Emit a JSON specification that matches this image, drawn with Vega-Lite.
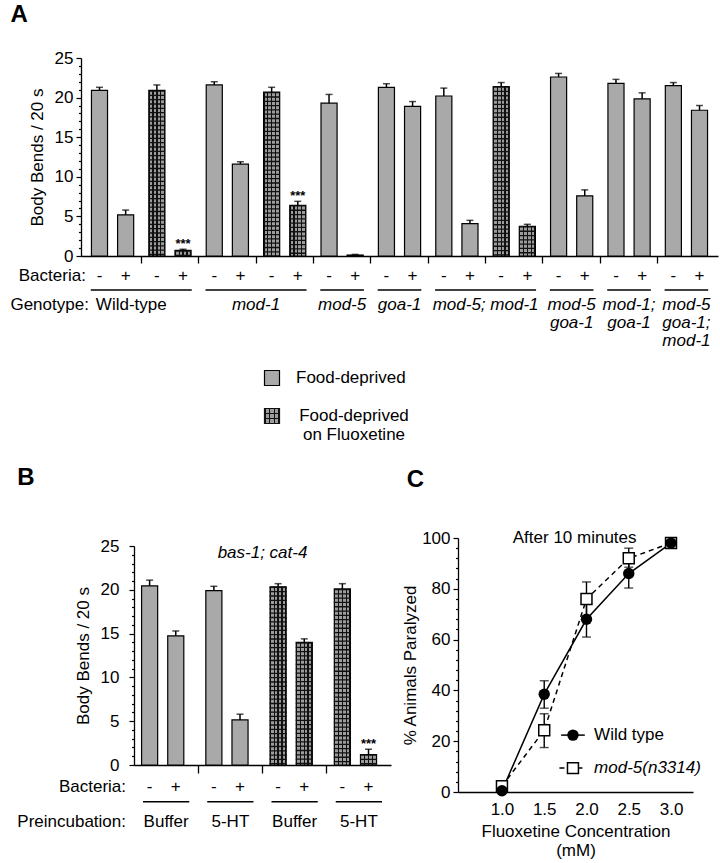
{
  "$schema": "https://vega.github.io/schema/vega-lite/v6.json",
  "background": "white",
  "padding": {"left": 10, "top": 3, "right": 5, "bottom": 5},
  "config": {
    "font": "Liberation Sans",
    "view": {"stroke": null},
    "axis": {"labelFont": "Liberation Sans", "titleFont": "Liberation Sans", "labelFontSize": 17, "titleFontSize": 17, "titleFontWeight": "normal", "labelColor": "#000", "titleColor": "#000", "domainColor": "#000", "tickColor": "#000", "domainWidth": 1.3, "tickWidth": 1.2, "grid": false},
    "title": {"font": "Liberation Sans", "fontSize": 24, "fontWeight": "bold", "anchor": "start", "frame": "bounds", "color": "#000"},
    "text": {"font": "Liberation Sans", "fontSize": 17, "color": "#000"}
  },
  "datasets": {
    "barsA": [
      {"pair": "Wild-type FD", "genotype": "Wild-type", "treatment": "FD", "bacteria": "-", "mean": 20.9, "upper": 21.3, "stars": false},
      {"pair": "Wild-type FD", "genotype": "Wild-type", "treatment": "FD", "bacteria": "+", "mean": 5.2, "upper": 5.8, "stars": false},
      {"pair": "Wild-type FL", "genotype": "Wild-type", "treatment": "FL", "bacteria": "-", "mean": 20.9, "upper": 21.6, "stars": false},
      {"pair": "Wild-type FL", "genotype": "Wild-type", "treatment": "FL", "bacteria": "+", "mean": 0.7, "upper": 0.85, "stars": true},
      {"pair": "mod-1 FD", "genotype": "mod-1", "treatment": "FD", "bacteria": "-", "mean": 21.6, "upper": 22.0, "stars": false},
      {"pair": "mod-1 FD", "genotype": "mod-1", "treatment": "FD", "bacteria": "+", "mean": 11.6, "upper": 11.9, "stars": false},
      {"pair": "mod-1 FL", "genotype": "mod-1", "treatment": "FL", "bacteria": "-", "mean": 20.7, "upper": 21.3, "stars": false},
      {"pair": "mod-1 FL", "genotype": "mod-1", "treatment": "FL", "bacteria": "+", "mean": 6.4, "upper": 6.9, "stars": true},
      {"pair": "mod-5 FD", "genotype": "mod-5", "treatment": "FD", "bacteria": "-", "mean": 19.3, "upper": 20.4, "stars": false},
      {"pair": "mod-5 FD", "genotype": "mod-5", "treatment": "FD", "bacteria": "+", "mean": 0.12, "upper": 0.2, "stars": false},
      {"pair": "goa-1 FD", "genotype": "goa-1", "treatment": "FD", "bacteria": "-", "mean": 21.3, "upper": 21.75, "stars": false},
      {"pair": "goa-1 FD", "genotype": "goa-1", "treatment": "FD", "bacteria": "+", "mean": 18.9, "upper": 19.5, "stars": false},
      {"pair": "mod-5; mod-1 FD", "genotype": "mod-5; mod-1", "treatment": "FD", "bacteria": "-", "mean": 20.2, "upper": 21.2, "stars": false},
      {"pair": "mod-5; mod-1 FD", "genotype": "mod-5; mod-1", "treatment": "FD", "bacteria": "+", "mean": 4.1, "upper": 4.5, "stars": false},
      {"pair": "mod-5; mod-1 FL", "genotype": "mod-5; mod-1", "treatment": "FL", "bacteria": "-", "mean": 21.4, "upper": 21.9, "stars": false},
      {"pair": "mod-5; mod-1 FL", "genotype": "mod-5; mod-1", "treatment": "FL", "bacteria": "+", "mean": 3.75, "upper": 4.0, "stars": false},
      {"pair": "mod-5 goa-1 FD", "genotype": "mod-5 goa-1", "treatment": "FD", "bacteria": "-", "mean": 22.6, "upper": 23.05, "stars": false},
      {"pair": "mod-5 goa-1 FD", "genotype": "mod-5 goa-1", "treatment": "FD", "bacteria": "+", "mean": 7.6, "upper": 8.35, "stars": false},
      {"pair": "mod-1; goa-1 FD", "genotype": "mod-1; goa-1", "treatment": "FD", "bacteria": "-", "mean": 21.8, "upper": 22.3, "stars": false},
      {"pair": "mod-1; goa-1 FD", "genotype": "mod-1; goa-1", "treatment": "FD", "bacteria": "+", "mean": 19.85, "upper": 20.6, "stars": false},
      {"pair": "mod-5 goa-1; mod-1 FD", "genotype": "mod-5 goa-1; mod-1", "treatment": "FD", "bacteria": "-", "mean": 21.5, "upper": 21.9, "stars": false},
      {"pair": "mod-5 goa-1; mod-1 FD", "genotype": "mod-5 goa-1; mod-1", "treatment": "FD", "bacteria": "+", "mean": 18.4, "upper": 19.0, "stars": false}
    ],
    "groupsA": [
      {"label": "Wild-type", "first": "Wild-type FD", "last": "Wild-type FL"},
      {"label": "mod-1", "first": "mod-1 FD", "last": "mod-1 FL"},
      {"label": "mod-5", "first": "mod-5 FD", "last": "mod-5 FD"},
      {"label": "goa-1", "first": "goa-1 FD", "last": "goa-1 FD"},
      {"label": "mod-5; mod-1", "first": "mod-5; mod-1 FD", "last": "mod-5; mod-1 FL"},
      {"label": "mod-5\ngoa-1", "first": "mod-5 goa-1 FD", "last": "mod-5 goa-1 FD"},
      {"label": "mod-1;\ngoa-1", "first": "mod-1; goa-1 FD", "last": "mod-1; goa-1 FD"},
      {"label": "mod-5\ngoa-1;\nmod-1", "first": "mod-5 goa-1; mod-1 FD", "last": "mod-5 goa-1; mod-1 FD"}
    ],
    "barsB": [
      {"pair": "Buffer FD", "preinc": "Buffer", "treatment": "FD", "bacteria": "-", "mean": 20.45, "upper": 21.1, "stars": false},
      {"pair": "Buffer FD", "preinc": "Buffer", "treatment": "FD", "bacteria": "+", "mean": 14.75, "upper": 15.3, "stars": false},
      {"pair": "5-HT FD", "preinc": "5-HT", "treatment": "FD", "bacteria": "-", "mean": 19.9, "upper": 20.4, "stars": false},
      {"pair": "5-HT FD", "preinc": "5-HT", "treatment": "FD", "bacteria": "+", "mean": 5.15, "upper": 5.8, "stars": false},
      {"pair": "Buffer FL", "preinc": "Buffer", "treatment": "FL", "bacteria": "-", "mean": 20.35, "upper": 20.7, "stars": false},
      {"pair": "Buffer FL", "preinc": "Buffer", "treatment": "FL", "bacteria": "+", "mean": 14.0, "upper": 14.4, "stars": false},
      {"pair": "5-HT FL", "preinc": "5-HT", "treatment": "FL", "bacteria": "-", "mean": 20.1, "upper": 20.7, "stars": false},
      {"pair": "5-HT FL", "preinc": "5-HT", "treatment": "FL", "bacteria": "+", "mean": 1.2, "upper": 1.8, "stars": true}
    ],
    "groupsB": [
      {"label": "Buffer", "pair": "Buffer FD"},
      {"label": "5-HT", "pair": "5-HT FD"},
      {"label": "Buffer", "pair": "Buffer FL"},
      {"label": "5-HT", "pair": "5-HT FL"}
    ],
    "curveC": [
      {"series": "Wild type", "conc": 1.0, "mean": 0.5, "lower": null, "upper": null},
      {"series": "Wild type", "conc": 1.5, "mean": 38.5, "lower": 33.0, "upper": 43.8},
      {"series": "Wild type", "conc": 2.0, "mean": 68.0, "lower": 61.0, "upper": 77.0},
      {"series": "Wild type", "conc": 2.5, "mean": 86.0, "lower": 80.3, "upper": 92.5},
      {"series": "Wild type", "conc": 3.0, "mean": 98.0, "lower": null, "upper": null},
      {"series": "mod-5(n3314)", "conc": 1.0, "mean": 2.3, "lower": null, "upper": null},
      {"series": "mod-5(n3314)", "conc": 1.5, "mean": 24.3, "lower": 17.5, "upper": 30.8},
      {"series": "mod-5(n3314)", "conc": 2.0, "mean": 76.0, "lower": 69.0, "upper": 82.7},
      {"series": "mod-5(n3314)", "conc": 2.5, "mean": 92.0, "lower": 88.5, "upper": 96.0},
      {"series": "mod-5(n3314)", "conc": 3.0, "mean": 98.0, "lower": null, "upper": null}
    ]
  },
  "bounds": "flush",
  "spacing": 103,
  "vconcat": [
    {
      "title": {"text": "A", "offset": 22},
      "width": 637,
      "height": 198,
      "data": {"name": "barsA"},
      "resolve": {"axis": {"y": "independent"}},
      "layer": [
        {
          "transform": [{"filter": "datum.treatment === 'FD'"}],
          "mark": {"type": "bar", "fill": "#a9a9a9", "stroke": "#000", "strokeWidth": 1.2},
          "encoding": {
            "x": {"field": "pair", "type": "nominal",
              "scale": {"domain": ["Wild-type FD", "Wild-type FL", "mod-1 FD", "mod-1 FL", "mod-5 FD", "goa-1 FD", "mod-5; mod-1 FD", "mod-5; mod-1 FL", "mod-5 goa-1 FD", "mod-1; goa-1 FD", "mod-5 goa-1; mod-1 FD"], "paddingInner": 0, "paddingOuter": 0.05},
              "axis": {"title": null, "labels": false, "tickSize": 7, "tickWidth": 1.3, "bandPosition": 0, "values": ["Wild-type FL", "mod-1 FD", "mod-1 FL", "mod-5 FD", "goa-1 FD", "mod-5; mod-1 FD", "mod-5; mod-1 FL", "mod-5 goa-1 FD", "mod-1; goa-1 FD", "mod-5 goa-1; mod-1 FD"]}},
            "xOffset": {"field": "bacteria", "type": "nominal", "scale": {"domain": ["-", "+"], "paddingInner": 0.385, "paddingOuter": 0.29}},
            "y": {"field": "mean", "type": "quantitative", "scale": {"domain": [0, 25], "nice": false},
              "axis": {"orient": "left", "title": "Body Bends / 20 s", "values": [0, 5, 10, 15, 20, 25], "tickSize": 5, "labelPadding": 3, "titlePadding": 8}}
          }
        },
        {
          "transform": [{"filter": "datum.treatment === 'FL'"}],
          "mark": {"type": "bar", "stroke": "#000", "strokeWidth": 1.2,
            "fill": {"gradient": "linear", "x1": 0, "y1": 0, "x2": 1, "y2": 0, "stops": [
              {"offset": 0, "color": "#111"}, {"offset": 0.06, "color": "#111"}, {"offset": 0.06, "color": "#9c9c9c"}, {"offset": 0.22, "color": "#9c9c9c"},
              {"offset": 0.22, "color": "#111"}, {"offset": 0.3, "color": "#111"}, {"offset": 0.3, "color": "#9c9c9c"}, {"offset": 0.46, "color": "#9c9c9c"},
              {"offset": 0.46, "color": "#111"}, {"offset": 0.54, "color": "#111"}, {"offset": 0.54, "color": "#9c9c9c"}, {"offset": 0.7, "color": "#9c9c9c"},
              {"offset": 0.7, "color": "#111"}, {"offset": 0.78, "color": "#111"}, {"offset": 0.78, "color": "#9c9c9c"}, {"offset": 0.94, "color": "#9c9c9c"},
              {"offset": 0.94, "color": "#111"}, {"offset": 1, "color": "#111"}]}},
          "encoding": {
            "x": {"field": "pair", "type": "nominal"},
            "xOffset": {"field": "bacteria", "type": "nominal"},
            "y": {"field": "mean", "type": "quantitative", "axis": null}
          }
        },
        {
          "transform": [{"filter": "datum.treatment === 'FL'"}],
          "mark": {"type": "rule", "stroke": "#111", "strokeWidth": 16, "strokeDash": [1.3, 3.0], "strokeCap": "butt"},
          "encoding": {
            "x": {"field": "pair", "type": "nominal"},
            "xOffset": {"field": "bacteria", "type": "nominal"},
            "y": {"field": "mean", "type": "quantitative", "axis": null},
            "y2": {"datum": 0}
          }
        },
        {
          "mark": {"type": "rule", "stroke": "#000", "strokeWidth": 1.5},
          "encoding": {
            "x": {"field": "pair", "type": "nominal"},
            "xOffset": {"field": "bacteria", "type": "nominal"},
            "y": {"field": "mean", "type": "quantitative",
              "axis": {"orient": "left", "title": null, "labels": false, "domain": false, "tickSize": 2.5, "values": [1,2,3,4,6,7,8,9,11,12,13,14,16,17,18,19,21,22,23,24]}},
            "y2": {"field": "upper"}
          }
        },
        {
          "mark": {"type": "tick", "orient": "horizontal", "color": "#000", "size": 7, "thickness": 1.5},
          "encoding": {
            "x": {"field": "pair", "type": "nominal"},
            "xOffset": {"field": "bacteria", "type": "nominal"},
            "y": {"field": "upper", "type": "quantitative", "axis": null}
          }
        },
        {
          "transform": [{"filter": "datum.stars"}],
          "mark": {"type": "text", "text": "***", "fontSize": 13, "fontWeight": "bold", "baseline": "bottom", "dy": 2},
          "encoding": {
            "x": {"field": "pair", "type": "nominal"},
            "xOffset": {"field": "bacteria", "type": "nominal"},
            "y": {"field": "upper", "type": "quantitative", "axis": null}
          }
        },
        {
          "mark": {"type": "text", "baseline": "middle", "align": "center"},
          "encoding": {
            "x": {"field": "pair", "type": "nominal"},
            "xOffset": {"field": "bacteria", "type": "nominal"},
            "y": {"datum": -2.5, "type": "quantitative", "axis": null},
            "text": {"field": "bacteria"}
          }
        },
        {
          "data": {"name": "groupsA"},
          "mark": {"type": "rule", "stroke": "#000", "strokeWidth": 1.6},
          "encoding": {
            "x": {"field": "first", "type": "nominal", "bandPosition": 0.12},
            "x2": {"field": "last", "bandPosition": 0.88},
            "y": {"datum": -4.3, "type": "quantitative", "axis": null}
          }
        },
        {
          "data": {"name": "groupsA"},
          "transform": [{"filter": "datum.label === 'Wild-type'"}],
          "mark": {"type": "text", "baseline": "top", "align": "center", "dx": -10, "lineBreak": "\n", "lineHeight": 18},
          "encoding": {
            "x": {"field": "last", "type": "nominal", "bandPosition": 0},
            "y": {"datum": -5.2, "type": "quantitative", "axis": null},
            "text": {"field": "label"}
          }
        },
        {
          "data": {"name": "groupsA"},
          "transform": [{"filter": "datum.label !== 'Wild-type' && datum.first !== datum.last"}],
          "mark": {"type": "text", "baseline": "top", "align": "center", "fontStyle": "italic", "lineBreak": "\n", "lineHeight": 18},
          "encoding": {
            "x": {"field": "last", "type": "nominal", "bandPosition": 0},
            "y": {"datum": -5.2, "type": "quantitative", "axis": null},
            "text": {"field": "label"}
          }
        },
        {
          "data": {"name": "groupsA"},
          "transform": [{"filter": "datum.first === datum.last"}],
          "mark": {"type": "text", "baseline": "top", "align": "center", "fontStyle": "italic", "lineBreak": "\n", "lineHeight": 18},
          "encoding": {
            "x": {"field": "first", "type": "nominal", "bandPosition": 0.5},
            "y": {"datum": -5.2, "type": "quantitative", "axis": null},
            "text": {"field": "label"}
          }
        },
        {
          "data": {"values": [{"label": "Bacteria:", "pair": "Wild-type FD"}]},
          "mark": {"type": "text", "baseline": "middle", "align": "right", "dx": 2},
          "encoding": {
            "x": {"field": "pair", "type": "nominal", "bandPosition": 0},
            "y": {"datum": -2.5, "type": "quantitative", "axis": null},
            "text": {"field": "label"}
          }
        },
        {
          "data": {"values": [{"label": "Genotype:", "pair": "Wild-type FD"}]},
          "mark": {"type": "text", "baseline": "top", "align": "right", "dx": 5},
          "encoding": {
            "x": {"field": "pair", "type": "nominal", "bandPosition": 0},
            "y": {"datum": -5.2, "type": "quantitative", "axis": null},
            "text": {"field": "label"}
          }
        }
      ]
    },
    {
      "width": 382,
      "height": 76,
      "data": {"values": [{"item": "Food-deprived", "label": "Food-deprived"}, {"item": "Food-deprived on Fluoxetine", "label": "Food-deprived\non Fluoxetine"}]},
      "encoding": {
        "y": {"field": "item", "type": "nominal", "axis": null, "scale": {"domain": ["Food-deprived", "Food-deprived on Fluoxetine"]}}
      },
      "layer": [
        {
          "transform": [{"filter": "datum.item === 'Food-deprived'"}],
          "mark": {"type": "square", "size": 225, "filled": true, "fill": "#a9a9a9", "stroke": "#000", "strokeWidth": 1.2, "opacity": 1}
        },
        {
          "transform": [{"filter": "datum.item !== 'Food-deprived'"}],
          "mark": {"type": "square", "size": 225, "filled": true, "stroke": "#111", "strokeWidth": 1.2, "opacity": 1,
            "fill": {"gradient": "linear", "x1": 0, "y1": 0, "x2": 1, "y2": 0, "stops": [
              {"offset": 0, "color": "#111"}, {"offset": 0.08, "color": "#111"}, {"offset": 0.08, "color": "#9c9c9c"}, {"offset": 0.3, "color": "#9c9c9c"},
              {"offset": 0.3, "color": "#111"}, {"offset": 0.39, "color": "#111"}, {"offset": 0.39, "color": "#9c9c9c"}, {"offset": 0.61, "color": "#9c9c9c"},
              {"offset": 0.61, "color": "#111"}, {"offset": 0.7, "color": "#111"}, {"offset": 0.7, "color": "#9c9c9c"}, {"offset": 0.92, "color": "#9c9c9c"},
              {"offset": 0.92, "color": "#111"}, {"offset": 1, "color": "#111"}]}}
        },
        {
          "transform": [{"filter": "datum.item !== 'Food-deprived'"}],
          "mark": {"type": "square", "size": 225, "filled": true, "strokeWidth": 0, "opacity": 1,
            "fill": {"gradient": "linear", "x1": 0, "y1": 0, "x2": 0, "y2": 1, "stops": [
              {"offset": 0, "color": "rgba(0,0,0,0)"}, {"offset": 0.3, "color": "rgba(0,0,0,0)"}, {"offset": 0.3, "color": "#111"}, {"offset": 0.39, "color": "#111"},
              {"offset": 0.39, "color": "rgba(0,0,0,0)"}, {"offset": 0.61, "color": "rgba(0,0,0,0)"}, {"offset": 0.61, "color": "#111"}, {"offset": 0.7, "color": "#111"},
              {"offset": 0.7, "color": "rgba(0,0,0,0)"}, {"offset": 1, "color": "rgba(0,0,0,0)"}]}}
        },
        {
          "transform": [{"filter": "datum.item === 'Food-deprived'"}],
          "mark": {"type": "text", "align": "left", "baseline": "middle", "dx": 24},
          "encoding": {"text": {"field": "label"}}
        },
        {
          "transform": [{"filter": "datum.item !== 'Food-deprived'"}],
          "mark": {"type": "text", "align": "center", "baseline": "middle", "dx": 82, "lineBreak": "\n", "lineHeight": 19},
          "encoding": {"text": {"field": "label"}}
        }
      ]
    },
    {
      "bounds": "flush",
      "spacing": 0,
      "hconcat": [
        {
          "width": 53,
          "height": 10,
          "data": {"values": [{"blank": 0}]},
          "mark": {"type": "point", "opacity": 0}
        },
        {
          "bounds": "flush",
          "spacing": 67,
          "hconcat": [
            {
              "title": {"text": "B", "offset": 47},
              "width": 257,
              "height": 227,
              "data": {"name": "barsB"},
              "resolve": {"axis": {"y": "independent"}},
              "layer": [
                {
                  "transform": [{"filter": "datum.treatment === 'FD'"}],
                  "mark": {"type": "bar", "fill": "#a9a9a9", "stroke": "#000", "strokeWidth": 1.2},
                  "encoding": {
                    "x": {"field": "pair", "type": "nominal",
                      "scale": {"domain": ["Buffer FD", "5-HT FD", "Buffer FL", "5-HT FL"], "paddingInner": 0, "paddingOuter": 0},
                      "axis": {"title": null, "labels": false, "tickSize": 8, "tickWidth": 1.3, "bandPosition": 0, "values": ["5-HT FD", "Buffer FL", "5-HT FL"]}},
                    "xOffset": {"field": "bacteria", "type": "nominal", "scale": {"domain": ["-", "+"], "paddingInner": 0.4, "paddingOuter": 0.32}},
                    "y": {"field": "mean", "type": "quantitative", "scale": {"domain": [0, 25], "nice": false, "range": [227, 8]},
                      "axis": {"orient": "left", "title": "Body Bends / 20 s", "values": [0, 5, 10, 15, 20, 25], "tickSize": 5, "labelPadding": 10, "titlePadding": 8}}
                  }
                },
                {
                  "transform": [{"filter": "datum.treatment === 'FL'"}],
                  "mark": {"type": "bar", "stroke": "#000", "strokeWidth": 1.2,
                    "fill": {"gradient": "linear", "x1": 0, "y1": 0, "x2": 1, "y2": 0, "stops": [
                      {"offset": 0, "color": "#111"}, {"offset": 0.06, "color": "#111"}, {"offset": 0.06, "color": "#9c9c9c"}, {"offset": 0.22, "color": "#9c9c9c"},
                      {"offset": 0.22, "color": "#111"}, {"offset": 0.3, "color": "#111"}, {"offset": 0.3, "color": "#9c9c9c"}, {"offset": 0.46, "color": "#9c9c9c"},
                      {"offset": 0.46, "color": "#111"}, {"offset": 0.54, "color": "#111"}, {"offset": 0.54, "color": "#9c9c9c"}, {"offset": 0.7, "color": "#9c9c9c"},
                      {"offset": 0.7, "color": "#111"}, {"offset": 0.78, "color": "#111"}, {"offset": 0.78, "color": "#9c9c9c"}, {"offset": 0.94, "color": "#9c9c9c"},
                      {"offset": 0.94, "color": "#111"}, {"offset": 1, "color": "#111"}]}},
                  "encoding": {
                    "x": {"field": "pair", "type": "nominal"},
                    "xOffset": {"field": "bacteria", "type": "nominal"},
                    "y": {"field": "mean", "type": "quantitative", "axis": null}
                  }
                },
                {
                  "transform": [{"filter": "datum.treatment === 'FL'"}],
                  "mark": {"type": "rule", "stroke": "#111", "strokeWidth": 17, "strokeDash": [1.3, 3.0], "strokeCap": "butt"},
                  "encoding": {
                    "x": {"field": "pair", "type": "nominal"},
                    "xOffset": {"field": "bacteria", "type": "nominal"},
                    "y": {"field": "mean", "type": "quantitative", "axis": null},
                    "y2": {"datum": 0}
                  }
                },
                {
                  "mark": {"type": "rule", "stroke": "#000", "strokeWidth": 1.5},
                  "encoding": {
                    "x": {"field": "pair", "type": "nominal"},
                    "xOffset": {"field": "bacteria", "type": "nominal"},
                    "y": {"field": "mean", "type": "quantitative",
                      "axis": {"orient": "left", "title": null, "labels": false, "domain": false, "tickSize": 2.5, "values": [1,2,3,4,6,7,8,9,11,12,13,14,16,17,18,19,21,22,23,24]}},
                    "y2": {"field": "upper"}
                  }
                },
                {
                  "mark": {"type": "tick", "orient": "horizontal", "color": "#000", "size": 7, "thickness": 1.5},
                  "encoding": {
                    "x": {"field": "pair", "type": "nominal"},
                    "xOffset": {"field": "bacteria", "type": "nominal"},
                    "y": {"field": "upper", "type": "quantitative", "axis": null}
                  }
                },
                {
                  "transform": [{"filter": "datum.stars"}],
                  "mark": {"type": "text", "text": "***", "fontSize": 13, "fontWeight": "bold", "baseline": "bottom", "dy": 2},
                  "encoding": {
                    "x": {"field": "pair", "type": "nominal"},
                    "xOffset": {"field": "bacteria", "type": "nominal"},
                    "y": {"field": "upper", "type": "quantitative", "axis": null}
                  }
                },
                {
                  "mark": {"type": "text", "baseline": "middle", "align": "center"},
                  "encoding": {
                    "x": {"field": "pair", "type": "nominal"},
                    "xOffset": {"field": "bacteria", "type": "nominal"},
                    "y": {"datum": -2.5, "type": "quantitative", "axis": null},
                    "text": {"field": "bacteria"}
                  }
                },
                {
                  "data": {"name": "groupsB"},
                  "mark": {"type": "rule", "stroke": "#000", "strokeWidth": 1.6},
                  "encoding": {
                    "x": {"field": "pair", "type": "nominal", "bandPosition": 0.14},
                    "x2": {"field": "pair", "bandPosition": 0.86},
                    "y": {"datum": -4.2, "type": "quantitative", "axis": null}
                  }
                },
                {
                  "data": {"name": "groupsB"},
                  "mark": {"type": "text", "baseline": "middle", "align": "center"},
                  "encoding": {
                    "x": {"field": "pair", "type": "nominal"},
                    "y": {"datum": -6.5, "type": "quantitative", "axis": null},
                    "text": {"field": "label"}
                  }
                },
                {
                  "data": {"values": [{"label": "Bacteria:", "pair": "Buffer FD"}]},
                  "mark": {"type": "text", "baseline": "middle", "align": "right", "dx": -8},
                  "encoding": {
                    "x": {"field": "pair", "type": "nominal", "bandPosition": 0},
                    "y": {"datum": -2.5, "type": "quantitative", "axis": null},
                    "text": {"field": "label"}
                  }
                },
                {
                  "data": {"values": [{"label": "Preincubation:", "pair": "Buffer FD"}]},
                  "mark": {"type": "text", "baseline": "middle", "align": "right", "dx": -8},
                  "encoding": {
                    "x": {"field": "pair", "type": "nominal", "bandPosition": 0},
                    "y": {"datum": -6.5, "type": "quantitative", "axis": null},
                    "text": {"field": "label"}
                  }
                },
                {
                  "data": {"values": [{"label": "bas-1; cat-4", "pair": "Buffer FL"}]},
                  "mark": {"type": "text", "baseline": "middle", "align": "center", "fontStyle": "italic"},
                  "encoding": {
                    "x": {"field": "pair", "type": "nominal", "bandPosition": 0},
                    "y": {"datum": 24.2, "type": "quantitative", "axis": null},
                    "text": {"field": "label"}
                  }
                }
              ]
            },
            {
              "title": {"text": "C", "offset": 37, "dx": 5},
              "width": 235,
              "height": 254,
              "data": {"name": "curveC"},
              "resolve": {"axis": {"y": "independent"}},
              "layer": [
                {
                  "transform": [{"filter": "datum.series === 'mod-5(n3314)'"}],
                  "mark": {"type": "line", "color": "#000", "strokeWidth": 1.5, "strokeDash": [5, 4]},
                  "encoding": {
                    "x": {"field": "conc", "type": "quantitative", "scale": {"domain": [0.48, 3.26], "nice": false, "zero": false},
                      "axis": {"title": ["Fluoxetine Concentration", "(mM)"], "values": [1, 1.5, 2, 2.5, 3], "format": ".1f", "ticks": false, "labelPadding": 9, "titlePadding": 6}},
                    "y": {"field": "mean", "type": "quantitative", "scale": {"domain": [0, 100], "nice": false},
                      "axis": {"orient": "left", "title": "% Animals Paralyzed", "values": [0, 20, 40, 60, 80, 100], "tickSize": 5, "labelPadding": 3, "titlePadding": 2}}
                  }
                },
                {
                  "transform": [{"filter": "datum.series === 'Wild type'"}],
                  "mark": {"type": "line", "color": "#000", "strokeWidth": 1.5},
                  "encoding": {
                    "x": {"field": "conc", "type": "quantitative"},
                    "y": {"field": "mean", "type": "quantitative",
                      "axis": {"orient": "left", "title": null, "labels": false, "domain": false, "tickSize": 2.5, "values": [4,8,12,16,24,28,32,36,44,48,52,56,64,68,72,76,84,88,92,96]}}
                  }
                },
                {
                  "transform": [{"filter": "datum.lower != null"}],
                  "mark": {"type": "rule", "color": "#000", "strokeWidth": 1.4},
                  "encoding": {
                    "x": {"field": "conc", "type": "quantitative"},
                    "y": {"field": "lower", "type": "quantitative", "axis": null},
                    "y2": {"field": "upper"}
                  }
                },
                {
                  "transform": [{"filter": "datum.lower != null"}],
                  "mark": {"type": "tick", "orient": "horizontal", "color": "#000", "size": 9, "thickness": 1.4},
                  "encoding": {
                    "x": {"field": "conc", "type": "quantitative"},
                    "y": {"field": "lower", "type": "quantitative", "axis": null}
                  }
                },
                {
                  "transform": [{"filter": "datum.lower != null"}],
                  "mark": {"type": "tick", "orient": "horizontal", "color": "#000", "size": 9, "thickness": 1.4},
                  "encoding": {
                    "x": {"field": "conc", "type": "quantitative"},
                    "y": {"field": "upper", "type": "quantitative", "axis": null}
                  }
                },
                {
                  "transform": [{"filter": "datum.series === 'mod-5(n3314)'"}],
                  "mark": {"type": "square", "size": 120, "filled": true, "fill": "white", "stroke": "#000", "strokeWidth": 1.5, "opacity": 1},
                  "encoding": {
                    "x": {"field": "conc", "type": "quantitative"},
                    "y": {"field": "mean", "type": "quantitative", "axis": null}
                  }
                },
                {
                  "transform": [{"filter": "datum.series === 'Wild type'"}],
                  "mark": {"type": "circle", "size": 130, "color": "#000", "opacity": 1},
                  "encoding": {
                    "x": {"field": "conc", "type": "quantitative"},
                    "y": {"field": "mean", "type": "quantitative", "axis": null}
                  }
                },
                {
                  "data": {"values": [{"label": "Wild type"}]},
                  "mark": {"type": "rule", "color": "#000", "strokeWidth": 1.5},
                  "encoding": {
                    "x": {"datum": 1.70, "type": "quantitative"},
                    "x2": {"datum": 1.98},
                    "y": {"datum": 22.4, "type": "quantitative", "axis": null}
                  }
                },
                {
                  "data": {"values": [{"label": "Wild type"}]},
                  "mark": {"type": "circle", "size": 130, "color": "#000", "opacity": 1},
                  "encoding": {
                    "x": {"datum": 1.84, "type": "quantitative"},
                    "y": {"datum": 22.4, "type": "quantitative", "axis": null}
                  }
                },
                {
                  "data": {"values": [{"label": "Wild type"}]},
                  "mark": {"type": "text", "align": "left", "baseline": "middle"},
                  "encoding": {
                    "x": {"datum": 2.09, "type": "quantitative"},
                    "y": {"datum": 22.4, "type": "quantitative", "axis": null},
                    "text": {"field": "label"}
                  }
                },
                {
                  "data": {"values": [{"label": "mod-5(n3314)"}]},
                  "mark": {"type": "rule", "color": "#000", "strokeWidth": 1.5, "strokeDash": [5, 4]},
                  "encoding": {
                    "x": {"datum": 1.68, "type": "quantitative"},
                    "x2": {"datum": 1.99},
                    "y": {"datum": 9.4, "type": "quantitative", "axis": null}
                  }
                },
                {
                  "data": {"values": [{"label": "mod-5(n3314)"}]},
                  "mark": {"type": "square", "size": 120, "filled": true, "fill": "white", "stroke": "#000", "strokeWidth": 1.5, "opacity": 1},
                  "encoding": {
                    "x": {"datum": 1.84, "type": "quantitative"},
                    "y": {"datum": 9.4, "type": "quantitative", "axis": null}
                  }
                },
                {
                  "data": {"values": [{"label": "mod-5(n3314)"}]},
                  "mark": {"type": "text", "align": "left", "baseline": "middle", "fontStyle": "italic"},
                  "encoding": {
                    "x": {"datum": 2.09, "type": "quantitative"},
                    "y": {"datum": 9.4, "type": "quantitative", "axis": null},
                    "text": {"field": "label"}
                  }
                },
                {
                  "data": {"values": [{"label": "After 10 minutes"}]},
                  "mark": {"type": "text", "align": "center", "baseline": "middle"},
                  "encoding": {
                    "x": {"datum": 1.86, "type": "quantitative"},
                    "y": {"datum": 100, "type": "quantitative", "axis": null},
                    "text": {"field": "label"}
                  }
                }
              ]
            }
          ]
        }
      ]
    }
  ]
}
